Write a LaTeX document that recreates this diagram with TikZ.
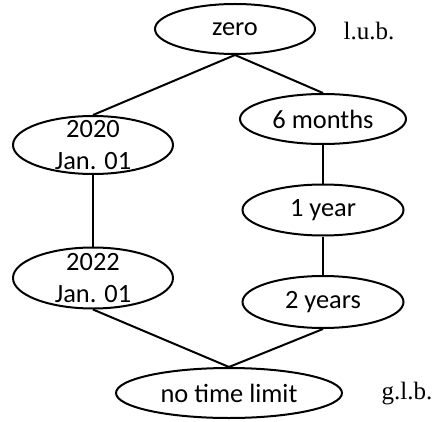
\documentclass[tikz,border=0pt]{standalone}
\usepackage{fontspec}
\setmainfont{Carlito}
\newfontfamily\boundfont{Liberation Serif}
\usetikzlibrary{shapes.geometric}
\begin{document}
\begin{tikzpicture}[x=1pt,y=-1pt,
  oval/.style={ellipse,draw,line width=2pt,inner sep=0pt,
    font=\fontsize{26.4}{32}\selectfont},
  tag/.style={font=\boundfont\fontsize{25}{30}\selectfont,inner sep=0pt},
  edge/.style={line width=2pt}]
\useasboundingbox (0,0) rectangle (433,422);
% lattice elements
\node[oval,minimum width=160pt,minimum height=50pt] (zero) at (235,29) {zero};
\node[oval,minimum width=160pt,minimum height=58pt,
  label={[font=\fontsize{26.4}{32}\selectfont,align=center]center:2020\\Jan. 01}] (d2020) at (93,145) {};
\node[oval,minimum width=166pt,minimum height=50pt] (m6) at (323,119) {6 months};
\node[oval,minimum width=161pt,minimum height=51pt] (y1) at (323,210) {1 year};
\node[oval,minimum width=160pt,minimum height=61pt,
  label={[font=\fontsize{26.4}{32}\selectfont,align=center]center:2022\\Jan. 01}] (d2022) at (93,278) {};
\node[oval,minimum width=161pt,minimum height=52pt] (y2) at (323,302) {2 years};
\node[oval,minimum width=226pt,minimum height=50pt] (none) at (229,393) {no time limit};
% bounds
\node[tag] (lub) at (369,31) {l.u.b.};
\node[tag] (glb) at (407,394) {g.l.b.};
% order relations
\draw[edge] (zero.south) -- (d2020.north);
\draw[edge] (zero.south) -- (m6.north);
\draw[edge] (m6.south) -- (y1.north);
\draw[edge] (y1.south) -- (y2.north);
\draw[edge] (d2020.south) -- (d2022.north);
\draw[edge] (d2022.south) -- (none.north);
\draw[edge] (y2.south) -- (none.north);
\end{tikzpicture}
\end{document}
